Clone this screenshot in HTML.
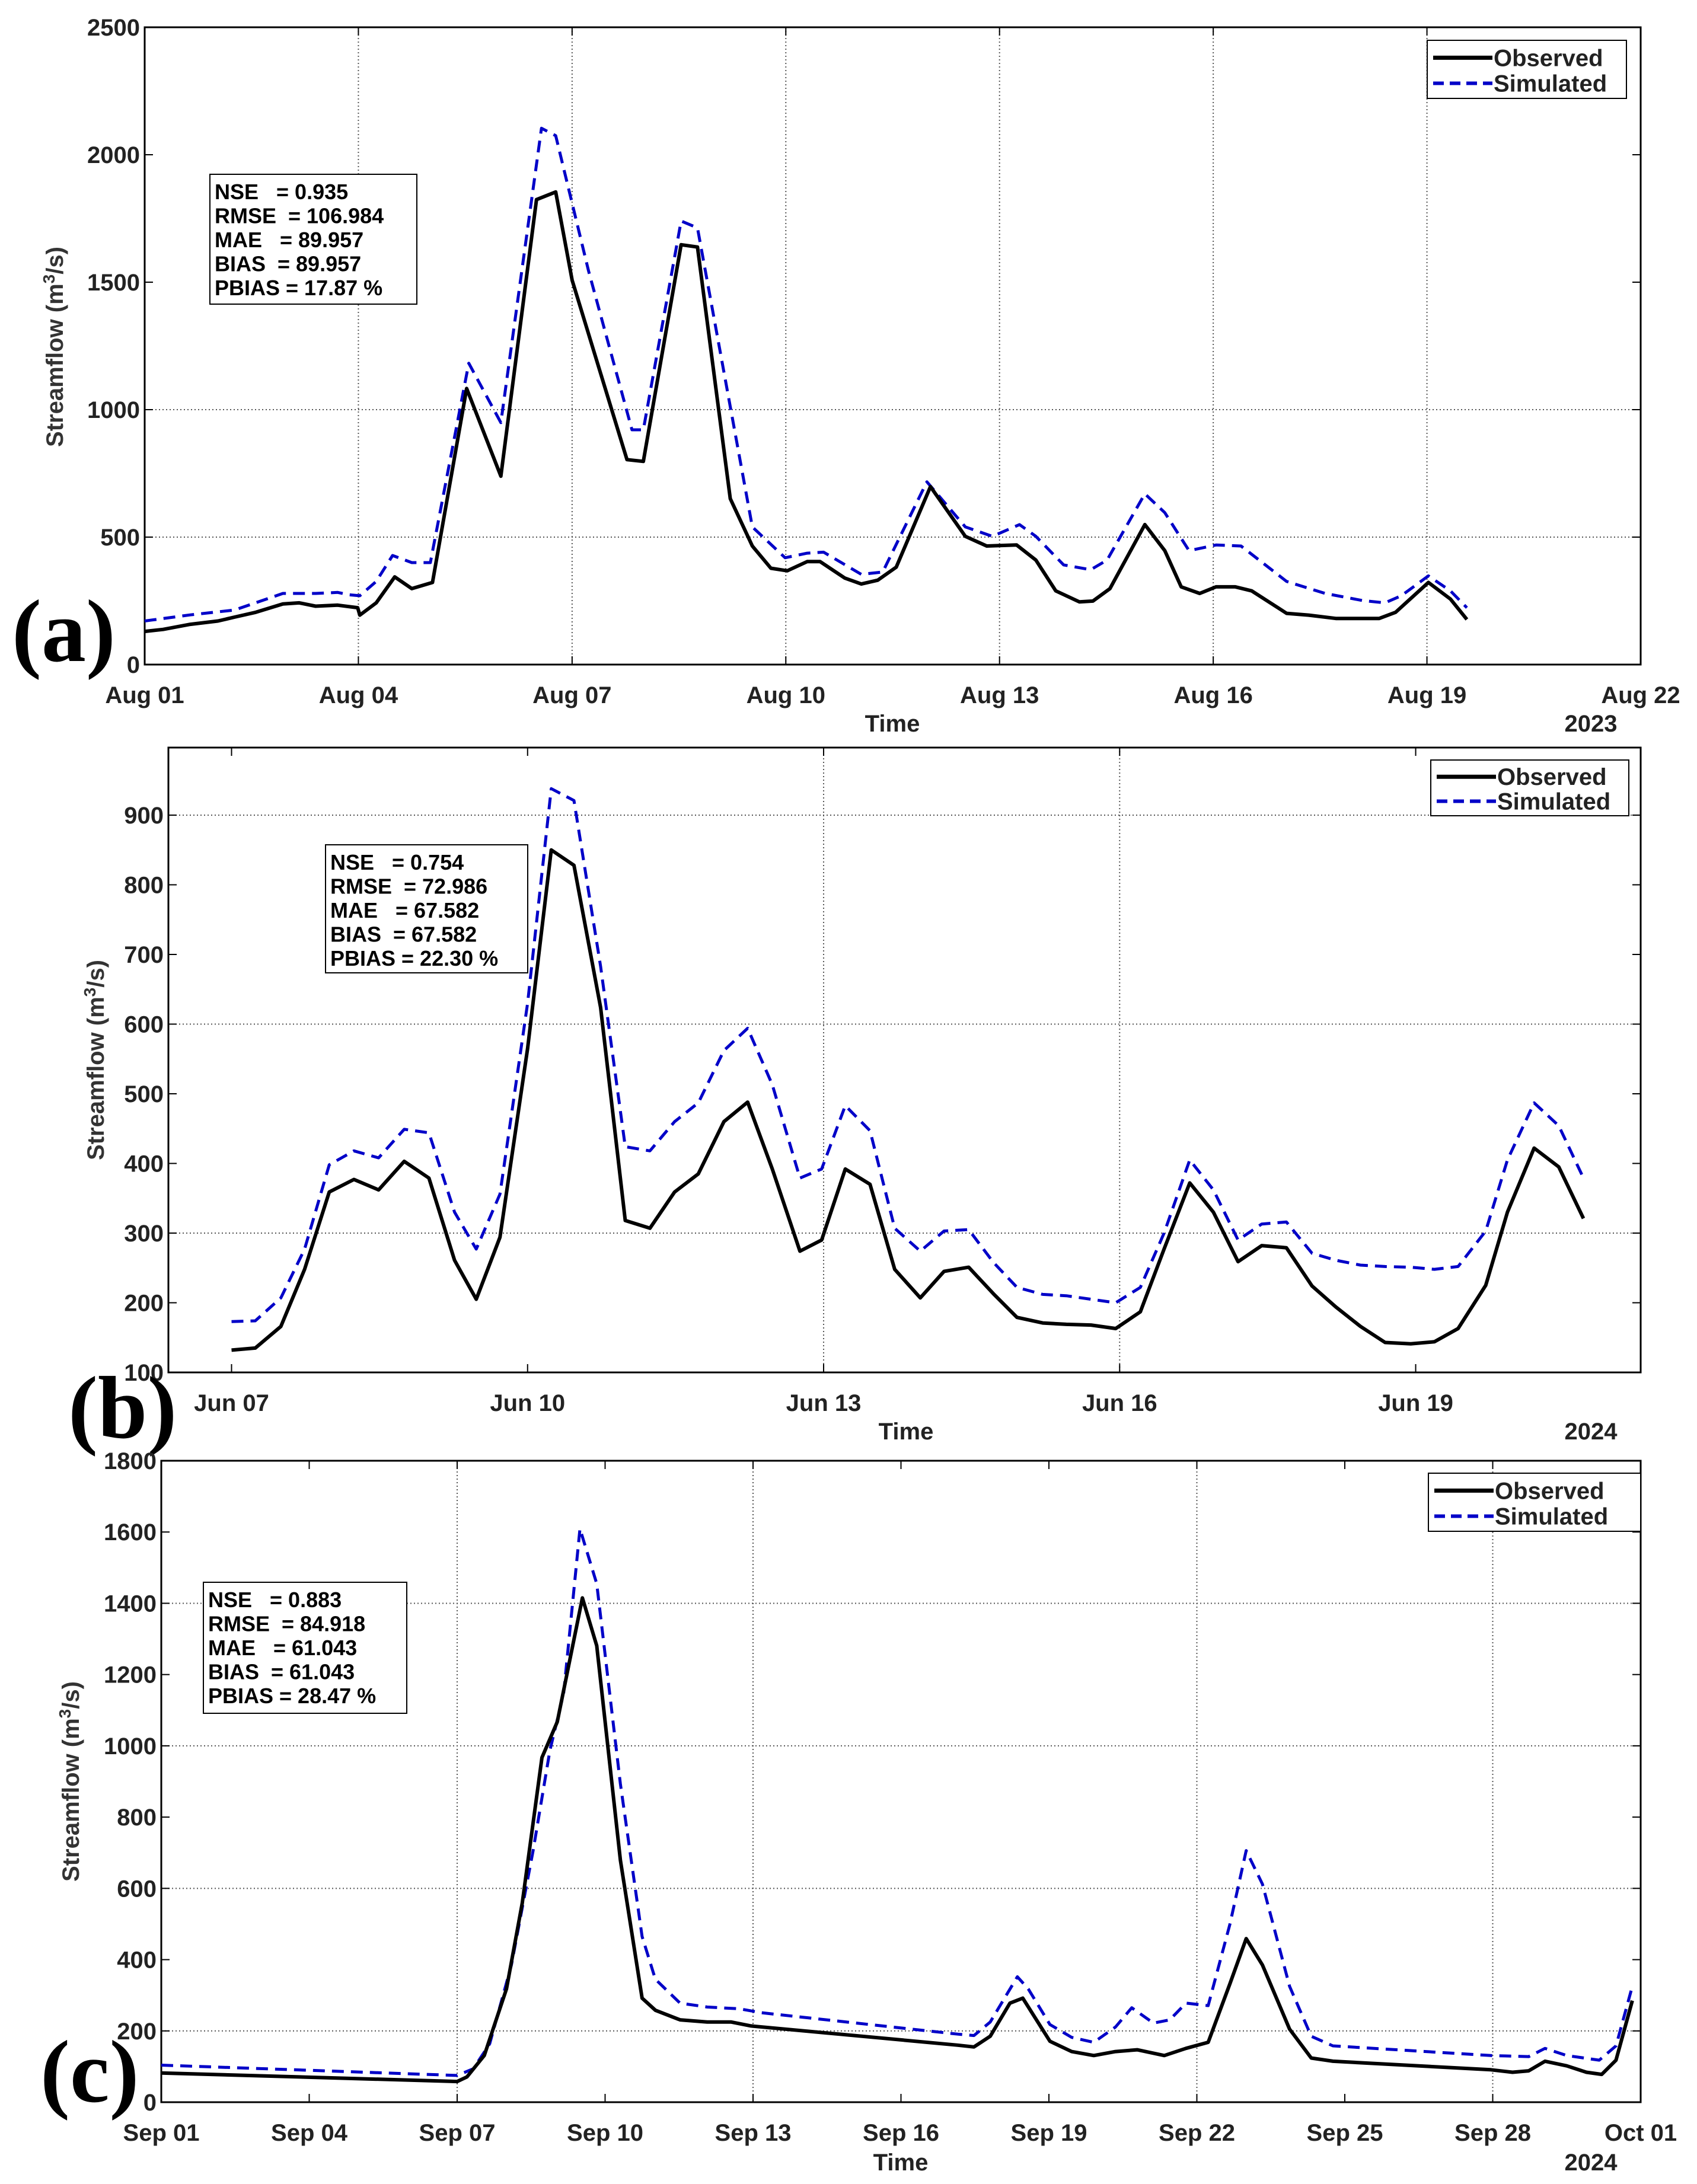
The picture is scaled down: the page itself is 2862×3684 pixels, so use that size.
<!DOCTYPE html>
<html><head><meta charset="utf-8">
<style>
html,body{margin:0;padding:0;background:#fff;}
svg{display:block;}
.tk{font-family:"Liberation Sans Narrow","Liberation Sans",sans-serif;font-weight:bold;font-size:40px;fill:#222;}
.st{font-family:"Liberation Sans Narrow","Liberation Sans",sans-serif;font-weight:bold;font-size:36px;fill:#000;}
.yt{font-family:"Liberation Sans",sans-serif;font-weight:bold;font-size:40px;fill:#333;}
.pl{font-family:"Liberation Serif",serif;font-weight:bold;font-size:150px;fill:#000;}
</style></head>
<body>
<svg id="fig" width="2862" height="3684" viewBox="0 0 2862 3684" xmlns="http://www.w3.org/2000/svg"></svg>
<script>
// Panel (a) Aug 2023 — day offsets from Aug 01
const aDaysObs=[0,0.26,0.64,1.03,1.26,1.56,1.94,2.17,2.4,2.71,2.99,3.02,3.25,3.51,3.75,4.04,4.52,5.0,5.5,5.77,6.0,6.77,7.0,7.53,7.76,8.22,8.53,8.79,9.02,9.3,9.48,9.83,10.06,10.29,10.55,11.03,11.52,11.82,12.24,12.51,12.79,13.12,13.31,13.55,14.04,14.32,14.55,14.81,15.04,15.31,15.54,16.03,16.34,16.72,17.33,17.56,18.02,18.33,18.56];
const aObs=[130,138,158,171,186,205,238,242,229,233,223,194,242,344,298,322,1083,739,1824,1854,1508,804,797,1647,1638,651,465,378,368,404,404,339,316,331,382,698,503,465,469,410,289,246,249,298,549,447,305,279,305,305,289,201,194,181,181,205,322,257,177];
const aDaysSim=[0,0.64,1.26,1.94,2.4,2.71,2.86,3.02,3.25,3.48,3.75,4.01,4.55,5.0,5.57,5.77,6.23,6.84,7.0,7.53,7.76,8.53,8.99,9.3,9.53,10.06,10.36,10.98,11.52,11.9,12.28,12.51,12.9,13.28,13.51,14.04,14.32,14.66,15.04,15.39,16.03,16.57,17.1,17.41,17.64,18.02,18.33,18.56];
const aSim=[171,195,214,279,279,283,274,270,326,428,400,400,1182,949,2104,2075,1545,921,921,1740,1713,540,419,437,441,354,363,717,540,503,549,503,391,372,410,670,596,447,469,465,326,279,251,242,270,348,289,223];
const aTickLabels=["Aug 01","Aug 04","Aug 07","Aug 10","Aug 13","Aug 16","Aug 19","Aug 22"];
const aYTicks=[0,500,1000,1500,2000,2500];
const aStats=["NSE   = 0.935","RMSE  = 106.984","MAE   = 89.957","BIAS  = 89.957","PBIAS = 17.87 %"];

// Panel (b) Jun 2024 — day offsets from Jun 07
const bDays=[0,0.24,0.5,0.74,0.99,1.24,1.49,1.75,2.0,2.26,2.48,2.72,3.0,3.24,3.47,3.74,3.99,4.24,4.49,4.73,4.99,5.23,5.48,5.76,5.98,6.22,6.47,6.72,6.98,7.22,7.47,7.72,7.96,8.22,8.46,8.71,8.96,9.21,9.45,9.71,9.95,10.2,10.44,10.69,10.95,11.19,11.44,11.69,11.95,12.19,12.43,12.71,12.93,13.2,13.45,13.7];
const bObs=[132,135,166,248,359,377,362,403,379,261,205,294,565,850,828,624,318,307,359,385,460,488,392,274,290,392,370,248,207,245,251,213,179,171,169,168,163,187,277,372,330,259,282,279,224,194,166,143,141,144,163,225,330,422,395,321];
const bSim=[173,174,207,277,398,418,408,449,444,330,277,356,630,938,921,683,424,418,460,487,562,594,513,379,392,483,447,307,274,303,305,258,222,212,210,205,200,222,300,405,362,290,313,316,271,261,254,252,251,248,252,303,405,487,454,379];
const bTickLabels=["Jun 07","Jun 10","Jun 13","Jun 16","Jun 19"];
const bYTicks=[100,200,300,400,500,600,700,800,900];
const bStats=["NSE   = 0.754","RMSE  = 72.986","MAE   = 67.582","BIAS  = 67.582","PBIAS = 22.30 %"];

// Panel (c) Sep 2024 — day offsets from Sep 01
const cDaysObs=[0,6.0,6.2,6.55,7.0,7.32,7.72,8.03,8.54,8.83,9.31,9.75,10.02,10.52,11.07,11.56,11.96,16.15,16.48,16.81,17.21,17.47,18.02,18.46,18.91,19.35,19.79,20.34,20.78,21.23,21.67,22.0,22.33,22.88,23.32,23.76,26.96,27.4,27.73,28.06,28.5,28.9,29.21,29.5,29.83];
const cObs=[82,58,71,131,318,559,967,1067,1415,1281,679,292,258,231,225,225,214,160,155,185,278,292,171,142,131,142,147,131,151,168,332,459,385,205,124,115,91,84,88,115,102,84,78,118,285];
const cDaysSim=[0,6.0,6.33,6.66,7.1,7.54,7.88,8.16,8.49,8.83,9.31,9.75,10.02,10.52,11.07,11.73,12.17,16.15,16.48,16.81,17.36,17.58,18.02,18.46,18.91,19.35,19.68,20.12,20.45,20.78,21.23,21.67,22.0,22.33,22.88,23.32,23.76,26.96,27.73,28.06,28.5,29.16,29.5,29.83];
const cSim=[104,75,94,164,385,706,987,1147,1609,1455,893,465,345,278,267,262,251,191,187,225,352,318,218,182,168,211,265,222,231,278,271,499,706,612,325,185,158,131,128,151,131,118,158,325];
const cTickLabels=["Sep 01","Sep 04","Sep 07","Sep 10","Sep 13","Sep 16","Sep 19","Sep 22","Sep 25","Sep 28","Oct 01"];
const cYTicks=[0,200,400,600,800,1000,1200,1400,1600,1800];
const cStats=["NSE   = 0.883","RMSE  = 84.918","MAE   = 61.043","BIAS  = 61.043","PBIAS = 28.47 %"];

const NS="http://www.w3.org/2000/svg";
const svg=document.getElementById('fig');
function mk(tag,attrs,parent){const e=document.createElementNS(NS,tag);for(const k in attrs)e.setAttribute(k,attrs[k]);(parent||svg).appendChild(e);return e;}

const panels=[
 {id:'a',L:244,R:2767,T:46,B:1121,x0:0,x1:21,y0:0,y1:2500,dObs:aDaysObs,obs:aObs,dSim:aDaysSim,sim:aSim,xl:aTickLabels,yt:aYTicks,stats:aStats,
  gx:[1,2,3,4,5,6],gy:[500,1000],
  leg:[2407,68,336,98],sb:[354,294,349,219],lab:[20,1115],yTitle:[92,585],tickY:1172,timeY:1220,timeX:1505,yr:'2023'},
 {id:'b',L:284,R:2767,T:1261,B:2315,x0:-0.64,x1:14.28,y0:100,y1:997,dObs:bDays,obs:bObs,dSim:bDays,sim:bSim,xl:bTickLabels,yt:bYTicks,stats:bStats,
  gx:[2,3],gy:[300,600,900],
  leg:[2413,1282,334,94],sb:[549,1425,341,216],lab:[115,2425],yTitle:[161,1788],tickY:2366,timeY:2414,timeX:1528,yr:'2024'},
 {id:'c',L:272,R:2767,T:2464,B:3546,x0:0,x1:30,y0:0,y1:1800,dObs:cDaysObs,obs:cObs,dSim:cDaysSim,sim:cSim,xl:cTickLabels,yt:cYTicks,stats:cStats,
  gx:[2,4,7,9],gy:[200,600,1000,1400],
  leg:[2409,2485,358,98],sb:[343,2669,343,221],lab:[68,3545],yTitle:[119,3005],tickY:3597,timeY:3647,timeX:1519,yr:'2024'}
];

panels.forEach(p=>{
 const g=mk('g',{});
 
 
 const sx=v=>p.L+(v-p.x0)/(p.x1-p.x0)*(p.R-p.L);
 const sy=v=>p.B-(v-p.y0)/(p.y1-p.y0)*(p.B-p.T);
 p.xl.forEach((lab,i)=>{
  const x=sx(i*3);
  if(p.gx.includes(i)){
   const gl=mk('line',{x1:x,x2:x,y1:p.T,y2:p.B,stroke:'#555','stroke-width':2,'stroke-dasharray':'2,4'},g);
   
   
  }
  mk('line',{x1:x,x2:x,y1:p.B,y2:p.B-14,stroke:'#000','stroke-width':2},g);
  mk('line',{x1:x,x2:x,y1:p.T,y2:p.T+14,stroke:'#000','stroke-width':2},g);
  const t=mk('text',{x:x,y:p.tickY+14,'text-anchor':'middle',class:'tk'},g);
  t.textContent=lab;
  
  
 });
 p.yt.forEach(v=>{
  const y=sy(v);
  if(p.gy.includes(v)){
   const gl=mk('line',{x1:p.L,x2:p.R,y1:y,y2:y,stroke:'#555','stroke-width':2,'stroke-dasharray':'2,4'},g);
   
   
  }
  mk('line',{x1:p.L,x2:p.L+14,y1:y,y2:y,stroke:'#000','stroke-width':2},g);
  mk('line',{x1:p.R,x2:p.R-14,y1:y,y2:y,stroke:'#000','stroke-width':2},g);
  const t=mk('text',{x:p.L-8,y:y+14,'text-anchor':'end',class:'tk'},g);
  t.textContent=v;
  
  
 });
 const fr=mk('rect',{x:p.L,y:p.T,width:p.R-p.L,height:p.B-p.T,fill:'none',stroke:'#000','stroke-width':3},g);
 
 
 const ptsS=p.dSim.map((d,i)=>sx(d).toFixed(1)+','+sy(p.sim[i]).toFixed(1)).join(' ');
 const ls=mk('polyline',{points:ptsS,fill:'none',stroke:'#0000c8','stroke-width':5,'stroke-dasharray':'20,12','stroke-linejoin':'round'},g);
 
 
 const ptsO=p.dObs.map((d,i)=>sx(d).toFixed(1)+','+sy(p.obs[i]).toFixed(1)).join(' ');
 const lo=mk('polyline',{points:ptsO,fill:'none',stroke:'#000','stroke-width':6,'stroke-linejoin':'round'},g);
 
 
 const [lx,ly,lw,lh]=p.leg;
 const lg=mk('g',{},g);
 
 
 mk('rect',{x:lx,y:ly,width:lw,height:lh,fill:'#fff',stroke:'#000','stroke-width':2},lg);
 mk('line',{x1:lx+10,x2:lx+110,y1:ly+lh*0.3,y2:ly+lh*0.3,stroke:'#000','stroke-width':7},lg);
 mk('line',{x1:lx+10,x2:lx+110,y1:ly+lh*0.74,y2:ly+lh*0.74,stroke:'#0000c8','stroke-width':6,'stroke-dasharray':'18,10'},lg);
 const t1=mk('text',{x:lx+112,y:ly+lh*0.3+14,class:'tk'},lg);t1.textContent='Observed';
 
 
 const t2=mk('text',{x:lx+112,y:ly+lh*0.74+14,class:'tk'},lg);t2.textContent='Simulated';
 
 
 const [bx,by,bw,bh]=p.sb;
 const sg=mk('g',{},g);
 
 
 mk('rect',{x:bx,y:by,width:bw,height:bh,fill:'#fff',stroke:'#000','stroke-width':2},sg);
 p.stats.forEach((s,i)=>{
  const t=mk('text',{x:bx+8,y:by+42+i*40.5,class:'st'},sg);
  t.style.whiteSpace='pre';
  t.textContent=s;
  
  
 });
 const yt=mk('text',{x:0,y:0,transform:`translate(${p.yTitle[0]+14},${p.yTitle[1]}) rotate(-90)`,'text-anchor':'middle',class:'yt'},g);
 yt.innerHTML='Streamflow (m<tspan dy="-14" font-size="28">3</tspan><tspan dy="14">/s)</tspan>';
 
 
 const tt=mk('text',{x:p.timeX,y:p.timeY+14,'text-anchor':'middle',class:'tk'},g);tt.textContent='Time';
 
 
 const yr=mk('text',{x:2683,y:p.timeY+14,'text-anchor':'middle',class:'tk'},g);yr.textContent=p.yr;
 
 
 const pl=mk('text',{x:p.lab[0],y:p.lab[1],class:'pl'},g);pl.textContent='('+p.id+')';
 
 
});
</script>
</body></html>
